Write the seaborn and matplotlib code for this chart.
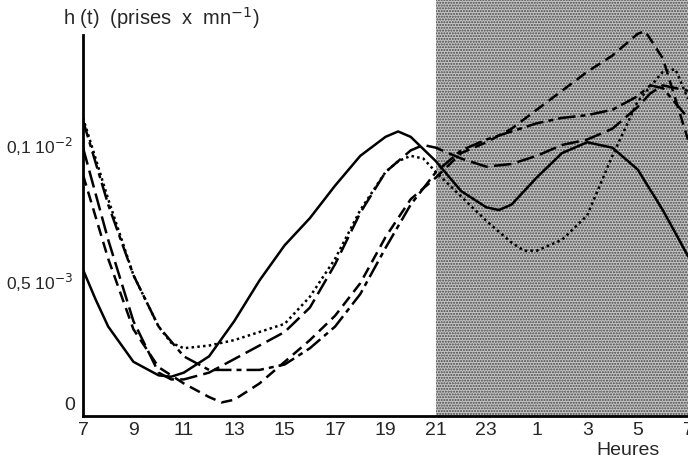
import matplotlib
matplotlib.use("Agg")
import matplotlib.pyplot as plt
import seaborn as sns
import pandas as pd

# ---- data (units of 1e-3 prises per minute); hours 7 .. 31 (31 = 7h next day) ----
tick_hours = list(range(7, 32, 2))
tick_labels = ["7", "9", "11", "13", "15", "17", "19", "21", "23", "1", "3", "5", "7"]

hours_a = [7, 7.5, 8, 9, 10, 10.5, 11, 12, 13, 14, 15, 16, 17, 18, 19, 19.5, 20, 21,
           22, 23, 23.5, 24, 25, 26, 27, 28, 29, 30, 31]
serie_a = [0.54, 0.43, 0.33, 0.20, 0.15, 0.145, 0.16, 0.22, 0.35, 0.50, 0.63, 0.73, 0.85,
           0.96, 1.03, 1.05, 1.03, 0.94, 0.83, 0.77, 0.76, 0.78, 0.88, 0.97, 1.01, 0.99,
           0.91, 0.76, 0.59]

hours_b = [7, 8, 9, 10, 10.5, 11, 12, 13, 14, 15, 16, 17, 18, 19, 19.5, 20, 20.5, 21, 22,
           23, 24, 24.5, 25, 26, 27, 28, 29, 30, 30.5, 31]
serie_b = [1.10, 0.80, 0.52, 0.33, 0.27, 0.25, 0.26, 0.28, 0.31, 0.34, 0.44, 0.58, 0.76,
           0.90, 0.94, 0.96, 0.95, 0.90, 0.81, 0.72, 0.64, 0.61, 0.61, 0.65, 0.74, 0.96,
           1.16, 1.27, 1.28, 1.17]

hours_c = [7, 8, 9, 10, 10.5, 11, 12, 13, 14, 15, 16, 17, 18, 19, 20, 20.5, 21, 22, 23,
           24, 25, 26, 27, 28, 29, 29.5, 30, 31]
serie_c = [0.99, 0.65, 0.35, 0.16, 0.135, 0.135, 0.16, 0.21, 0.26, 0.31, 0.40, 0.56, 0.75,
           0.90, 0.98, 1.00, 0.99, 0.95, 0.92, 0.93, 0.96, 1.00, 1.02, 1.06, 1.14, 1.19,
           1.22, 1.20]

hours_d = [7, 8, 9, 10, 11, 12, 13, 14, 15, 16, 17, 18, 19, 20, 21, 22, 23, 24, 25, 26,
           27, 28, 29, 29.5, 30, 31]
serie_d = [1.09, 0.78, 0.52, 0.33, 0.22, 0.17, 0.17, 0.17, 0.19, 0.25, 0.33, 0.45, 0.62,
           0.78, 0.90, 0.98, 1.02, 1.05, 1.08, 1.10, 1.11, 1.13, 1.18, 1.22, 1.21, 1.10]

hours_e = [7, 8, 9, 10, 11, 12, 12.5, 13, 14, 15, 16, 17, 18, 19, 20, 21, 22, 23, 24, 25,
           26, 27, 28, 29, 29.3, 30, 31]
serie_e = [0.89, 0.58, 0.32, 0.18, 0.12, 0.07, 0.05, 0.06, 0.12, 0.20, 0.28, 0.37, 0.49,
           0.66, 0.80, 0.88, 0.97, 1.01, 1.06, 1.13, 1.20, 1.27, 1.33, 1.41, 1.42, 1.32, 1.02]

series = {"A": (hours_a, serie_a), "B": (hours_b, serie_b), "C": (hours_c, serie_c),
          "D": (hours_d, serie_d), "E": (hours_e, serie_e)}
night_start, night_end = 21, 31

rows = []
for name, (hs, vals) in series.items():
    for h, v in zip(hs, vals):
        rows.append({"heure": h, "h": v, "serie": name})
df = pd.DataFrame(rows)

# ---- figure ----
sns.set_theme(style="white")
plt.rcParams["font.family"] = ["Liberation Sans", "DejaVu Sans"]
plt.rcParams["hatch.linewidth"] = 1.0
plt.rcParams["hatch.color"] = "#444444"

fig = plt.figure(figsize=(6.88, 4.61), dpi=100)
ax = fig.add_axes([83 / 688, 45 / 461, 605 / 688, 416 / 461])

ax.axvspan(night_start, night_end, facecolor="#c6c6c6", edgecolor="#444444",
           hatch="......", linewidth=0, zorder=0)

dashes = {"A": "", "B": (1, 1.3), "C": (7, 2.5), "D": (7, 2, 2, 2), "E": (4.5, 2.5)}
sns.lineplot(data=df, x="heure", y="h", hue="serie", style="serie",
             palette=["black"] * 5, dashes=dashes, linewidth=1.8,
             legend=False, ax=ax, zorder=3, sort=True)

ax.set_xlim(7, 31)
ax.set_ylim(0, 1.535)
for s in ["top", "right"]:
    ax.spines[s].set_visible(False)
for s in ["left", "bottom"]:
    ax.spines[s].set_color("black")
    ax.spines[s].set_linewidth(2.0)
ax.spines["left"].set_bounds(0, 1.405)

ax.set_xticks(tick_hours)
ax.set_xticklabels(tick_labels, fontsize=14)
ax.tick_params(axis="x", direction="in", length=6, width=2, color="black", pad=4)
ax.set_yticks([0.5, 1.0])
ax.set_yticklabels([r"0,5 10$^{-3}$", r"0,1 10$^{-2}$"], fontsize=12.5)
ax.tick_params(axis="y", direction="out", length=5, width=2, color="black", pad=2)
ax.text(-0.013, 0.04, "0", transform=ax.get_yaxis_transform(), ha="right", va="center", fontsize=14)
ax.set_xlabel("")
ax.set_ylabel("")

fig.text(63 / 688, 1 - 18 / 461, r"h (t)  (prises  x  mn$^{-1}$)", ha="left", va="center", fontsize=14.5)
fig.text(628 / 688, 1 - 450 / 461, "Heures", ha="center", va="center", fontsize=14)

fig.savefig("out.png", dpi=100)
